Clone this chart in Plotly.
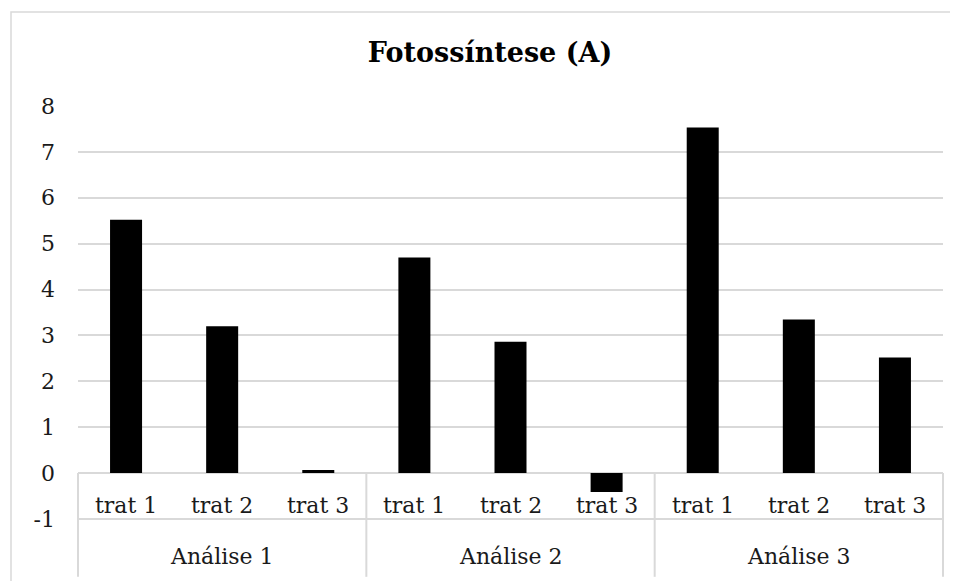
import plotly.graph_objects as go

groups = ["Análise 1", "Análise 2", "Análise 3"]
treatments = ["trat 1", "trat 2", "trat 3"]
values = [
    [5.52, 3.20, 0.07],
    [4.70, 2.86, -0.41],
    [7.53, 3.35, 2.52],
]
y_ticks = [-1, 0, 1, 2, 3, 4, 5, 6, 7, 8]
y_tick_labels = ["-1", "0", "1", "2", "3", "4", "5", "6", "7", "8"]
title_text = "Fotossíntese (A)"

FONT = "DejaVu Serif"
GRID = "#d9d9d9"
TXT = "#1a1a1a"

x_idx = []
y_vals = []
for gi, g in enumerate(groups):
    for ti, t in enumerate(treatments):
        x_idx.append(gi * len(treatments) + ti)
        y_vals.append(values[gi][ti])

n = len(x_idx)

fig = go.Figure()
fig.add_trace(go.Bar(x=x_idx, y=y_vals, marker=dict(color="black", line=dict(width=0)),
                     showlegend=False))

annotations = []
for gi, g in enumerate(groups):
    for ti, t in enumerate(treatments):
        annotations.append(dict(x=gi * len(treatments) + ti, xref="x", y=-0.5, yref="y",
                                text=t, showarrow=False, yanchor="middle", yshift=-9,
                                font=dict(family=FONT, size=22, color=TXT)))
    annotations.append(dict(x=gi * len(treatments) + 1, xref="x", y=-0.087, yref="paper",
                            text=g, showarrow=False, yanchor="middle", yshift=-2,
                            font=dict(family=FONT, size=22, color=TXT)))

shapes = []
ymin, ymax = -1, 8
zero_paper = (0 - ymin) / (ymax - ymin)
for k in range(len(groups) + 1):
    xp = (k * len(treatments)) / n
    shapes.append(dict(type="line", xref="paper", yref="paper", x0=xp, x1=xp,
                       y0=-0.14, y1=zero_paper, line=dict(color=GRID, width=2)))
shapes.append(dict(type="line", xref="paper", yref="paper", x0=0, x1=1, y0=0, y1=0,
                   line=dict(color=GRID, width=2)))
shapes.append(dict(type="rect", xref="paper", yref="paper",
                   x0=(11 - 78) / 865, x1=1.05, y0=-0.3, y1=(519 - 12) / 413,
                   line=dict(color=GRID, width=1.5), layer="below"))

W, H = 950, 573
fig.update_layout(
    width=W, height=H,
    margin=dict(l=70, r=15, t=98, b=H - 98 - 413),
    paper_bgcolor="white", plot_bgcolor="white",
    font=dict(family=FONT),
    bargap=0.667,
    title=dict(text="<b>" + title_text + "</b>", x=482 / W, xref="container",
               y=1 - 45 / H, yref="container", xanchor="center", yanchor="middle",
               font=dict(family=FONT, size=27, color="black")),
    xaxis=dict(range=[-0.5, n - 0.5], showticklabels=False, showgrid=False,
               zeroline=False, showline=False, ticks=""),
    yaxis=dict(range=[ymin, ymax], tickvals=y_ticks, ticktext=y_tick_labels,
               showgrid=True, gridcolor=GRID,
               gridwidth=2, zeroline=True, zerolinecolor=GRID, zerolinewidth=2,
               showline=False, ticks="", ticklabelstandoff=22,
               tickfont=dict(family=FONT, size=22, color=TXT)),
    annotations=annotations,
    shapes=shapes,
)

fig.write_html("out.html")
